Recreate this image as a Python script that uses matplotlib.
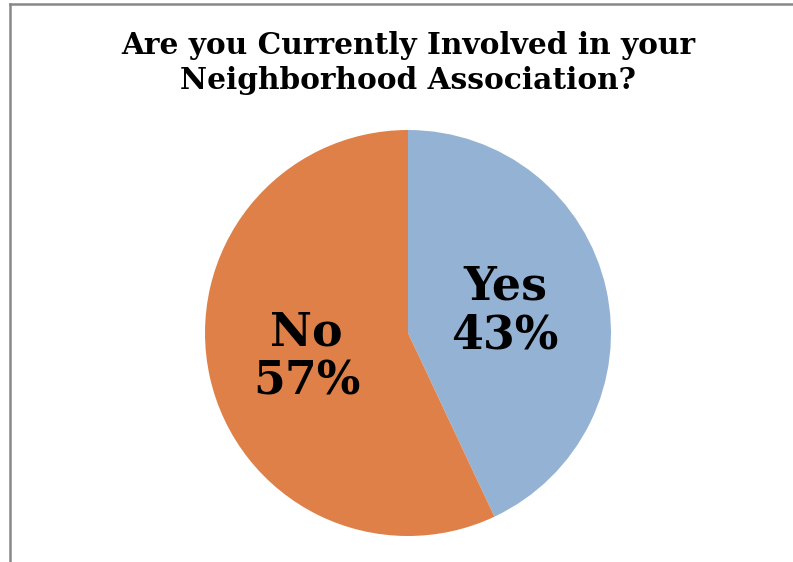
import matplotlib
matplotlib.use("Agg")
import matplotlib.pyplot as plt
from matplotlib.lines import Line2D

title = "Are you Currently Involved in your\nNeighborhood Association?"
labels = ["Yes", "No"]
shares = [43, 57]
colors = ["#94B3D4", "#DE8048"]

plt.rcParams['font.family'] = ['DejaVu Serif']

fig = plt.figure(figsize=(7.93, 5.62), dpi=100)

# pie placed in pixel terms: centre (408, 333), radius 203
cx, cy, r = 408, 333, 203
ax = fig.add_axes([(cx - r) / 793, (562 - cy - r) / 562, 2 * r / 793, 2 * r / 562])
wedges, _ = ax.pie(shares, colors=colors, startangle=90, counterclock=False,
                   radius=1, wedgeprops=dict(linewidth=0))
ax.set_xlim(-1, 1)
ax.set_ylim(-1, 1)
ax.set_aspect('equal')
ax.axis('off')

label_pos = [(0.478, 0.11), (-0.50, -0.12)]
for lab, val, (x, y) in zip(labels, shares, label_pos):
    ax.text(x, y, f"{lab}\n{val}%", ha='center', va='center', fontsize=33,
            fontweight='bold', linespacing=1.08, color='black')

fig.text(408 / 793, 1 - 63 / 562, title, ha='center', va='center', fontsize=21.3,
         fontweight='bold', linespacing=1.25)

# frame edges (chart area border, only left and top visible)
fig.add_artist(Line2D([9.5 / 793, 9.5 / 793], [0, 1 - 4 / 562], color='#888888', lw=1.8))
fig.add_artist(Line2D([9.5 / 793, 1], [1 - 4 / 562, 1 - 4 / 562], color='#888888', lw=1.8))

fig.savefig("out.png", dpi=100)
